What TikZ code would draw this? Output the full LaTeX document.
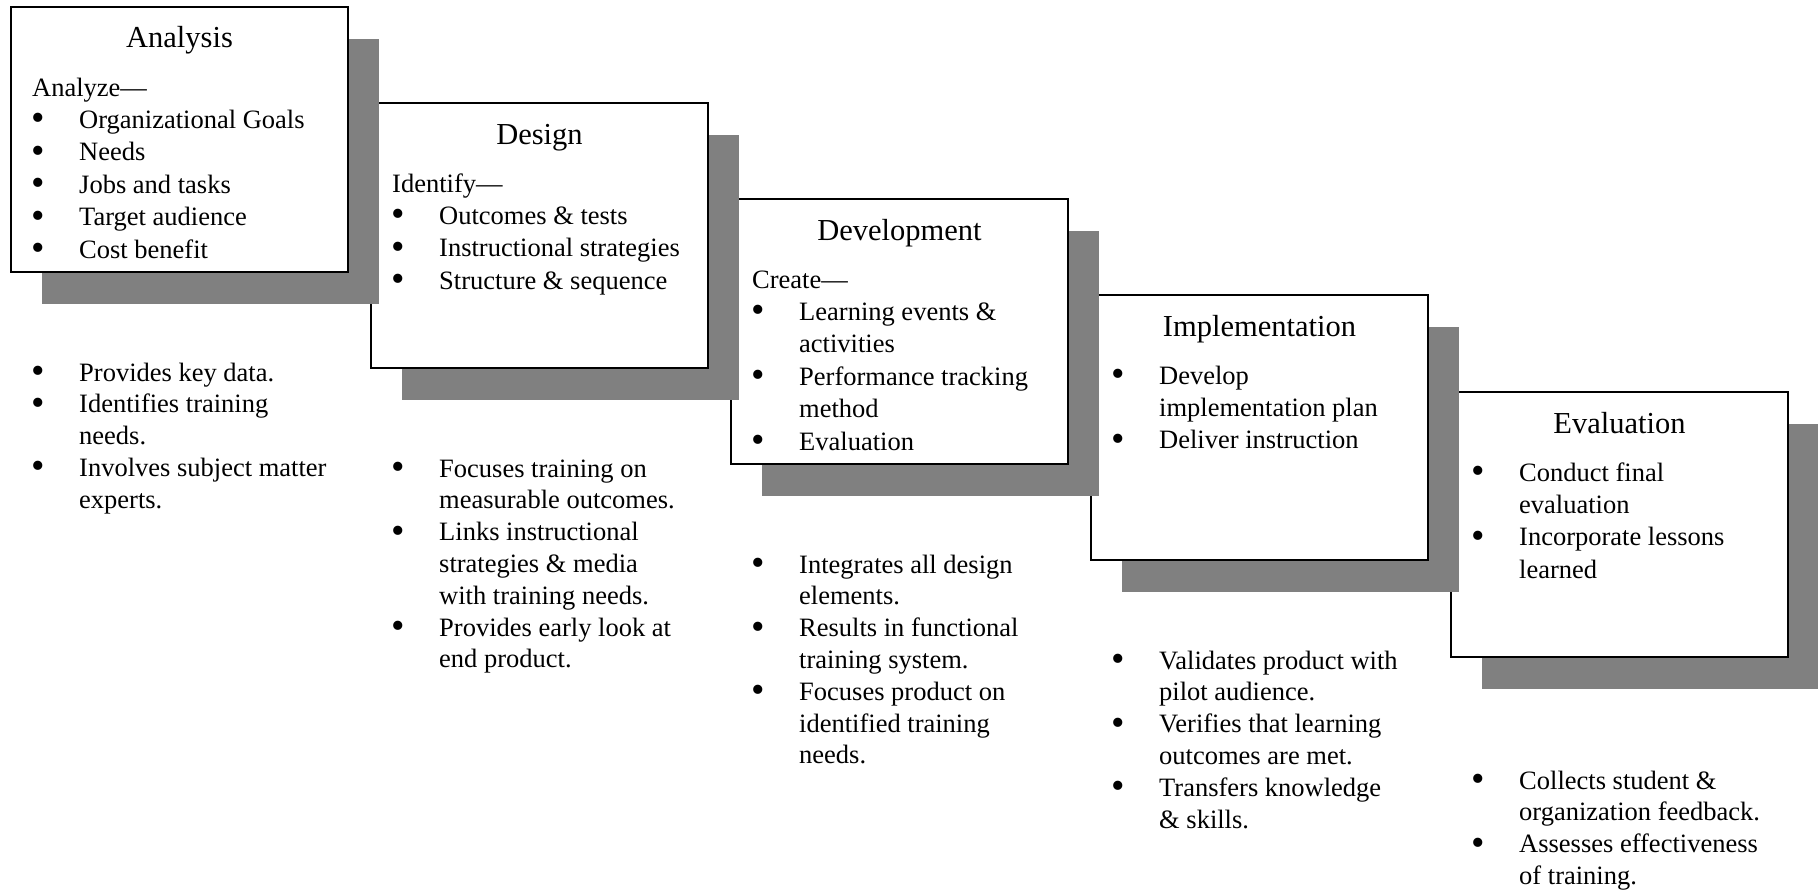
\documentclass[tikz,border=0pt]{standalone}
\usepackage{fontspec}
\setmainfont{Liberation Serif}
\newcommand{\bulmark}{\makebox[12pt][c]{\smash{\raisebox{-2.5pt}{\scalebox{1.45}{\textbullet}}}}}
\newcommand{\bul}{\par\hangindent=47pt\hangafter=1\noindent\makebox[47pt][l]{\bulmark}}
\newcommand{\blk}[2]{\parbox[t]{330pt}{\fontsize{26.5}{#1}\selectfont #2}}
\begin{document}
\begin{tikzpicture}[x=1pt,y=-1pt,
  boxnode/.style={draw=black, line width=2pt, fill=white, minimum width=337pt, minimum height=265pt, anchor=north west, inner sep=0pt, outer sep=0pt},
  shadownode/.style={fill=black!50, minimum width=337pt, minimum height=265pt, anchor=north west, inner sep=0pt, outer sep=0pt},
  ttl/.style={anchor=base, inner sep=0pt, font=\fontsize{30.5}{36}\selectfont},
  bodytxt/.style={anchor=base west, inner sep=0pt}]
\useasboundingbox (0,0) rectangle (1818,891);

% Evaluation
\node[shadownode] (s5) at (1482,424) {};
\node[boxnode] (b5) at (1451,392) {};
\node[ttl] (h5) at (1619.5,433) {Evaluation};
\node[bodytxt] (t5) at (1472,481) {\blk{32.4}{\bul Conduct final\\evaluation\bul Incorporate lessons\\learned}};

% Implementation
\node[shadownode] (s4) at (1122,327) {};
\node[boxnode] (b4) at (1091,295) {};
\node[ttl] (h4) at (1259.5,336) {Implementation};
\node[bodytxt] (t4) at (1112,384) {\blk{32.4}{\bul Develop\\implementation plan\bul Deliver instruction}};

% Development
\node[shadownode] (s3) at (762,231) {};
\node[boxnode] (b3) at (731,199) {};
\node[ttl] (h3) at (899.5,240) {Development};
\node[bodytxt] (t3) at (752,288) {\blk{32.4}{Create---\bul Learning events \&\\activities\bul Performance tracking\\method\bul Evaluation}};

% Design
\node[shadownode] (s2) at (402,135) {};
\node[boxnode] (b2) at (371,103) {};
\node[ttl] (h2) at (539.5,144) {Design};
\node[bodytxt] (t2) at (392,192) {\blk{32.4}{Identify---\bul Outcomes \& tests\bul Instructional strategies\bul Structure \& sequence}};

% Analysis
\node[shadownode] (s1) at (42,39) {};
\node[boxnode] (b1) at (11,7) {};
\node[ttl] (h1) at (179.5,48) {Analysis};
\node[bodytxt] (t1) at (32,96) {\blk{32.4}{Analyze---\bul Organizational Goals\bul Needs\bul Jobs and tasks\bul Target audience\bul Cost benefit}};

% Bottom notes
\node[bodytxt] (n1) at (32,381) {\blk{31.8}{\bul Provides key data.\bul Identifies training\\needs.\bul Involves subject matter\\experts.}};
\node[bodytxt] (n2) at (392,477) {\blk{31.8}{\bul Focuses training on\\measurable outcomes.\bul Links instructional\\strategies \& media\\with training needs.\bul Provides early look at\\end product.}};
\node[bodytxt] (n3) at (752,573) {\blk{31.8}{\bul Integrates all design\\elements.\bul Results in functional\\training system.\bul Focuses product on\\identified training\\needs.}};
\node[bodytxt] (n4) at (1112,669) {\blk{31.8}{\bul Validates product with\\pilot audience.\bul Verifies that learning\\outcomes are met.\bul Transfers knowledge\\\& skills.}};
\node[bodytxt] (n5) at (1472,789) {\blk{31.8}{\bul Collects student \&\\organization feedback.\bul Assesses effectiveness\\of training.}};
\end{tikzpicture}
\end{document}
